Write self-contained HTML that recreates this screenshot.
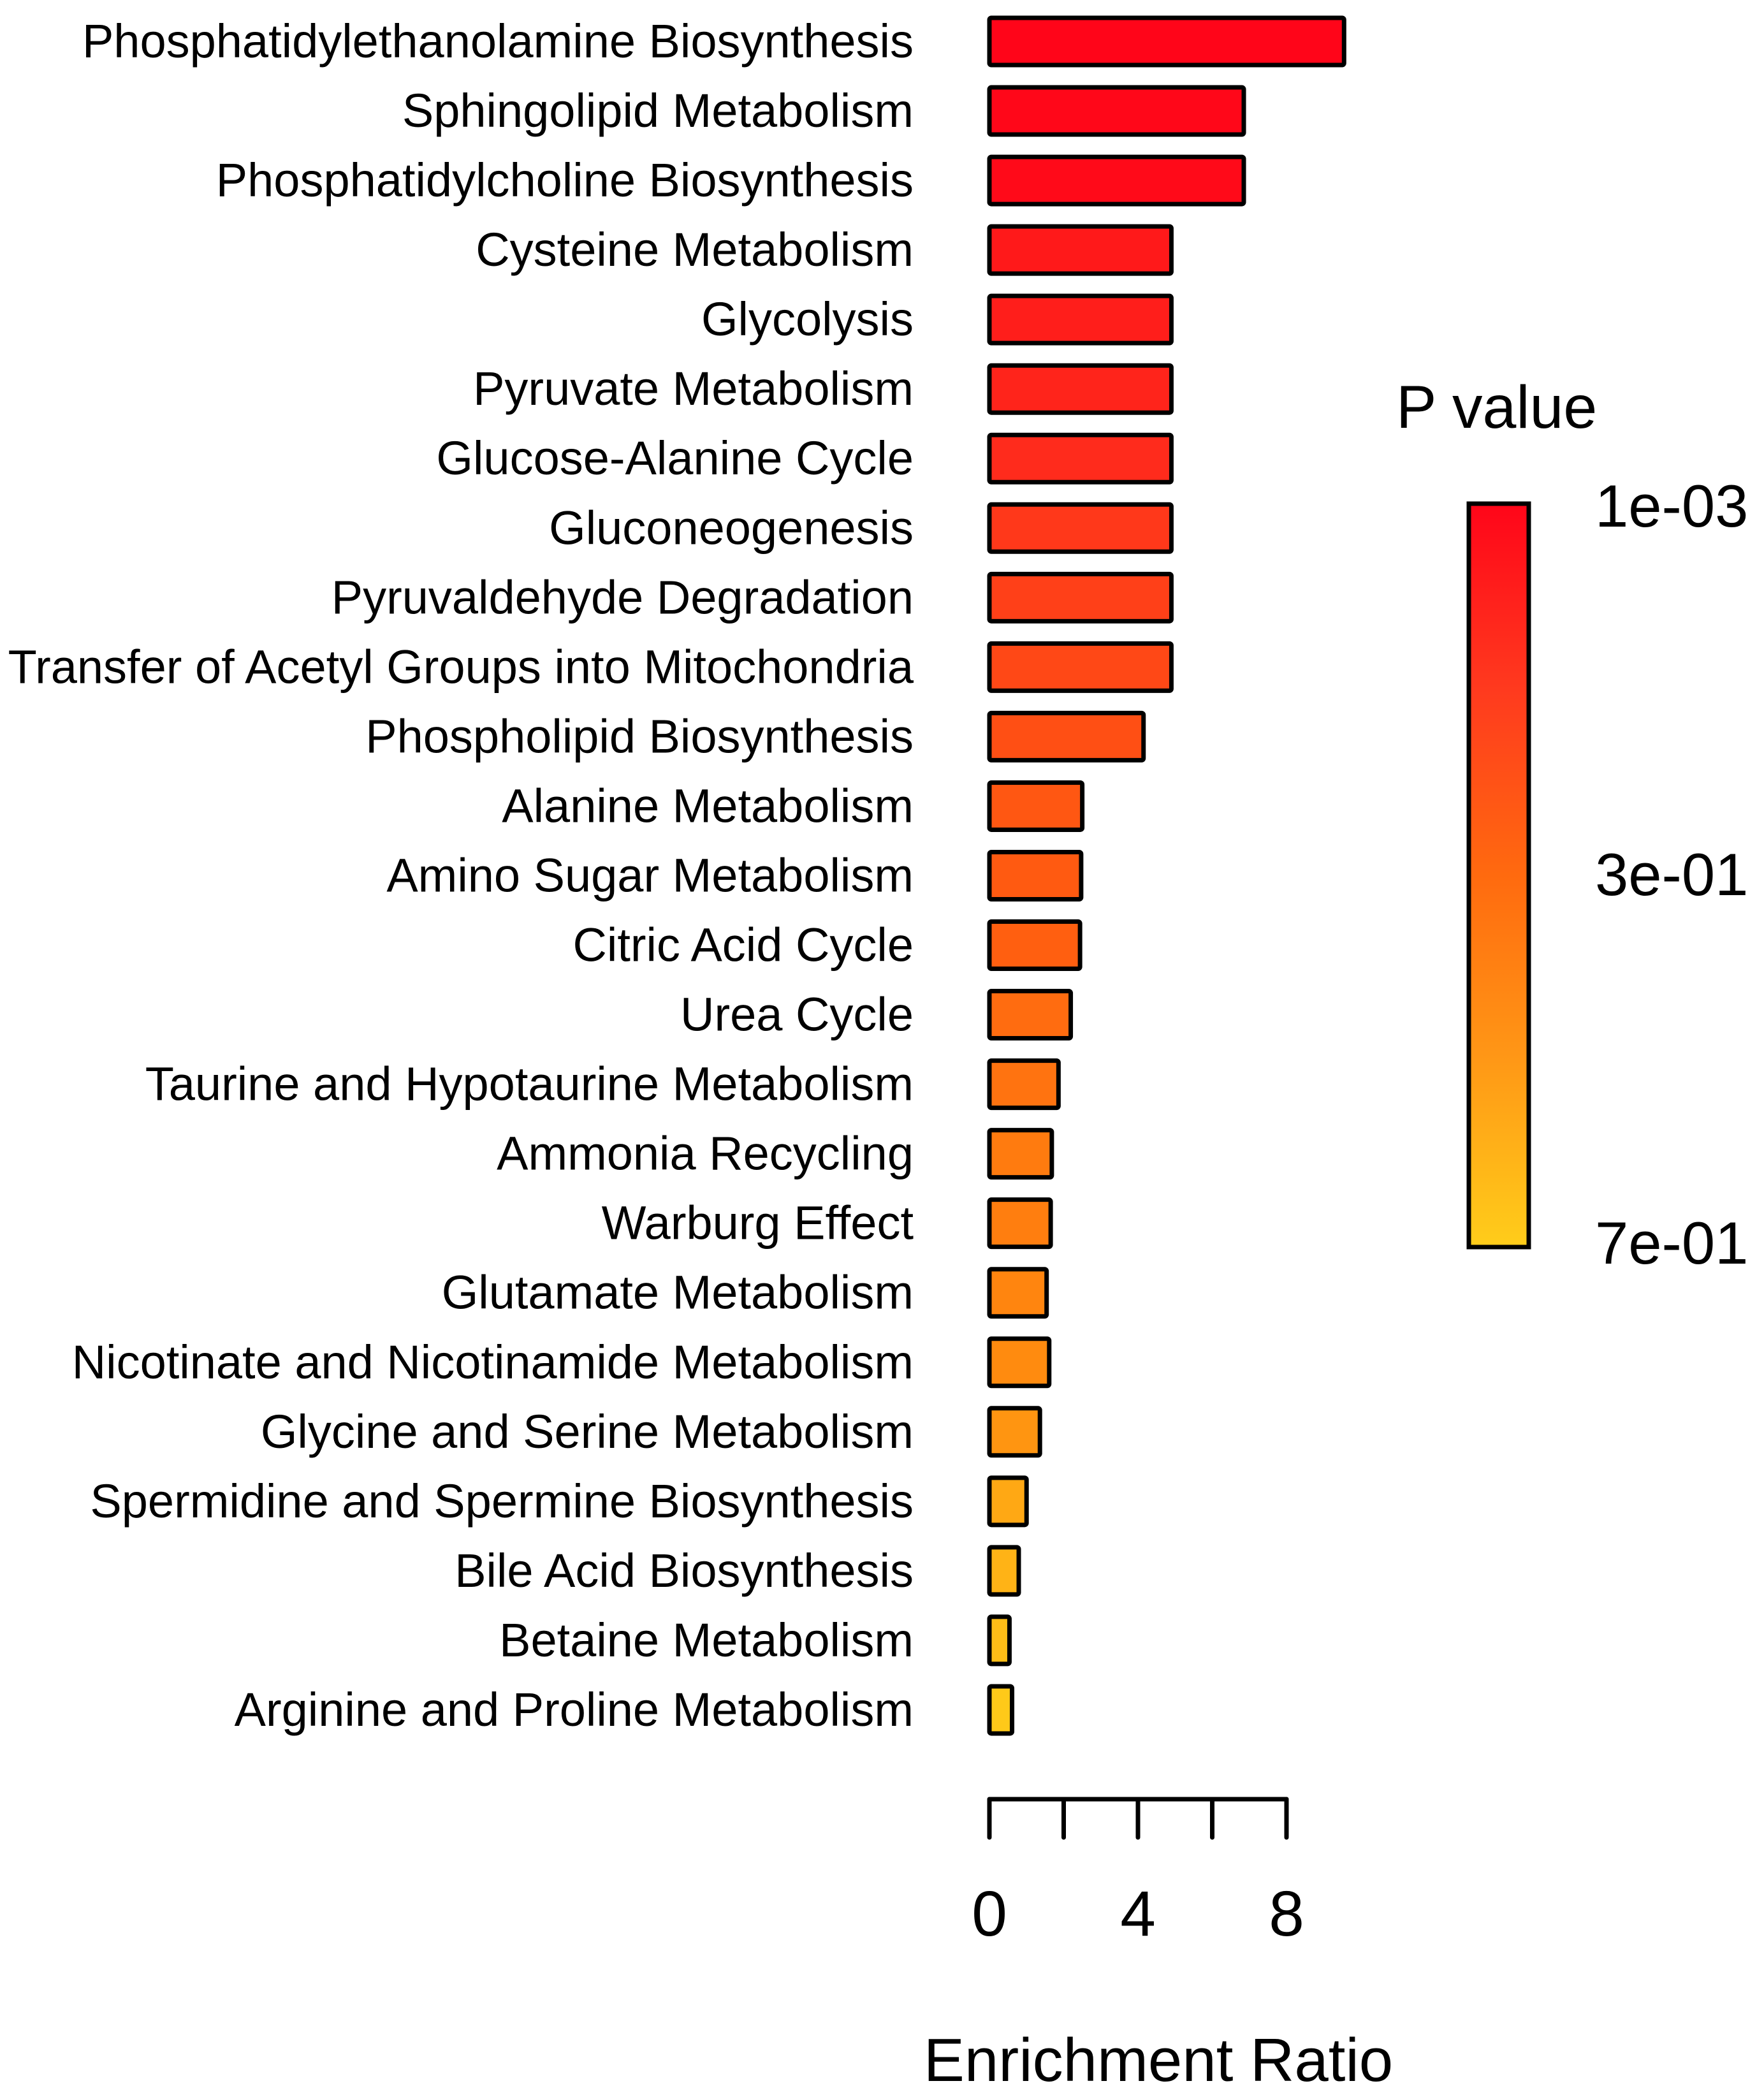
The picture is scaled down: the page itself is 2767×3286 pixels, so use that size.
<!DOCTYPE html>
<html><head><meta charset="utf-8"><style>
html,body{margin:0;padding:0;background:#fff;width:2767px;height:3286px;overflow:hidden}
svg text{font-family:"Liberation Sans",sans-serif;fill:#000}
</style></head><body>
<svg id="chart" width="2767" height="3286" viewBox="0 0 2767 3286" xmlns="http://www.w3.org/2000/svg">
<defs>
<linearGradient id="cbar" x1="0" y1="0" x2="0" y2="1">
<stop offset="0" stop-color="#ff0519"/>
<stop offset="0.25" stop-color="#ff3a1e"/>
<stop offset="0.5" stop-color="#ff6a0f"/>
<stop offset="0.75" stop-color="#ff9816"/>
<stop offset="1" stop-color="#ffcd1a"/>
</linearGradient>
</defs>
<g id="labels"></g>
<g id="bars"></g>
<g id="axis"></g>
<text x="1817" y="3264" font-size="96" text-anchor="middle">Enrichment Ratio</text>
<g>
<text x="2190" y="671" font-size="95">P value</text>
<rect x="2304" y="790" width="94" height="1166" fill="url(#cbar)" stroke="#000" stroke-width="7"/>
<text x="2502" y="826" font-size="94">1e-03</text>
<text x="2502" y="1404" font-size="94">3e-01</text>
<text x="2502" y="1982" font-size="94">7e-01</text>
</g>
</svg>
<script>
const categories = ["Phosphatidylethanolamine Biosynthesis","Sphingolipid Metabolism","Phosphatidylcholine Biosynthesis","Cysteine Metabolism","Glycolysis","Pyruvate Metabolism","Glucose-Alanine Cycle","Gluconeogenesis","Pyruvaldehyde Degradation","Transfer of Acetyl Groups into Mitochondria","Phospholipid Biosynthesis","Alanine Metabolism","Amino Sugar Metabolism","Citric Acid Cycle","Urea Cycle","Taurine and Hypotaurine Metabolism","Ammonia Recycling","Warburg Effect","Glutamate Metabolism","Nicotinate and Nicotinamide Metabolism","Glycine and Serine Metabolism","Spermidine and Spermine Biosynthesis","Bile Acid Biosynthesis","Betaine Metabolism","Arginine and Proline Metabolism"];
const enrichment = [9.55,6.85,6.85,4.9,4.9,4.9,4.9,4.9,4.9,4.9,4.15,2.5,2.47,2.44,2.19,1.86,1.68,1.65,1.54,1.61,1.36,1.0,0.79,0.54,0.61];
const pvalues = [0.001,0.01,0.02,0.08,0.1,0.12,0.15,0.2,0.23,0.26,0.29,0.32,0.33,0.35,0.4,0.43,0.46,0.47,0.5,0.52,0.55,0.6,0.63,0.66,0.69];
const xTicks = [0,2,4,6,8];
const xTickLabels = ["0","","4","","8"];

const NS="http://www.w3.org/2000/svg";
const x0=1552, pxPerUnit=58.25;
function xScale(v){return x0+v*pxPerUnit;}
function yCenter(i){return 65+i*109.04;}
const pMin=0.001,pMax=0.7;
const stops=[[0,[255,5,25]],[0.25,[255,50,28]],[0.5,[255,95,16]],[0.75,[255,140,15]],[1,[255,205,26]]];
function colorScale(p){
  let t=(p-pMin)/(pMax-pMin);t=Math.max(0,Math.min(1,t));
  for(let k=0;k<stops.length-1;k++){
    const a=stops[k],b=stops[k+1];
    if(t<=b[0]){const f=(t-a[0])/(b[0]-a[0]);
      const c=a[1].map((v,j)=>Math.round(v+(b[1][j]-v)*f));
      return `rgb(${c[0]},${c[1]},${c[2]})`;}
  }
  return "rgb(255,205,26)";
}
const gL=document.getElementById('labels'),gB=document.getElementById('bars'),gA=document.getElementById('axis');
categories.forEach((c,i)=>{
  const t=document.createElementNS(NS,'text');
  
  
  t.setAttribute('x',1433);t.setAttribute('y',yCenter(i)+25);
  t.setAttribute('font-size','74');t.setAttribute('text-anchor','end');
  t.textContent=c;gL.appendChild(t);
  const r=document.createElementNS(NS,'rect');
  
  
  const h=74;
  r.setAttribute('x',xScale(0));r.setAttribute('y',yCenter(i)-h/2);
  r.setAttribute('width',xScale(enrichment[i])-xScale(0));r.setAttribute('height',h);
  r.setAttribute('rx',3);
  r.setAttribute('fill',colorScale(pvalues[i]));r.setAttribute('stroke','#000');r.setAttribute('stroke-width','7');
  gB.appendChild(r);
});
const axisY=2822;
const line=document.createElementNS(NS,'line');


line.setAttribute('x1',xScale(xTicks[0]));line.setAttribute('x2',xScale(xTicks[xTicks.length-1]));
line.setAttribute('y1',axisY);line.setAttribute('y2',axisY);
line.setAttribute('stroke','#000');line.setAttribute('stroke-width','7');line.setAttribute('stroke-linecap','round');
gA.appendChild(line);
xTicks.forEach((v,i)=>{
  const tk=document.createElementNS(NS,'line');
  
  
  tk.setAttribute('x1',xScale(v));tk.setAttribute('x2',xScale(v));
  tk.setAttribute('y1',axisY);tk.setAttribute('y2',axisY+60);
  tk.setAttribute('stroke','#000');tk.setAttribute('stroke-width','7');tk.setAttribute('stroke-linecap','round');
  gA.appendChild(tk);
  if(xTickLabels[i]){
    const tl=document.createElementNS(NS,'text');
    
    
    tl.setAttribute('x',xScale(v));tl.setAttribute('y',3036);
    tl.setAttribute('font-size','100');tl.setAttribute('text-anchor','middle');
    tl.textContent=xTickLabels[i];gA.appendChild(tl);
  }
});
</script>
</body></html>
